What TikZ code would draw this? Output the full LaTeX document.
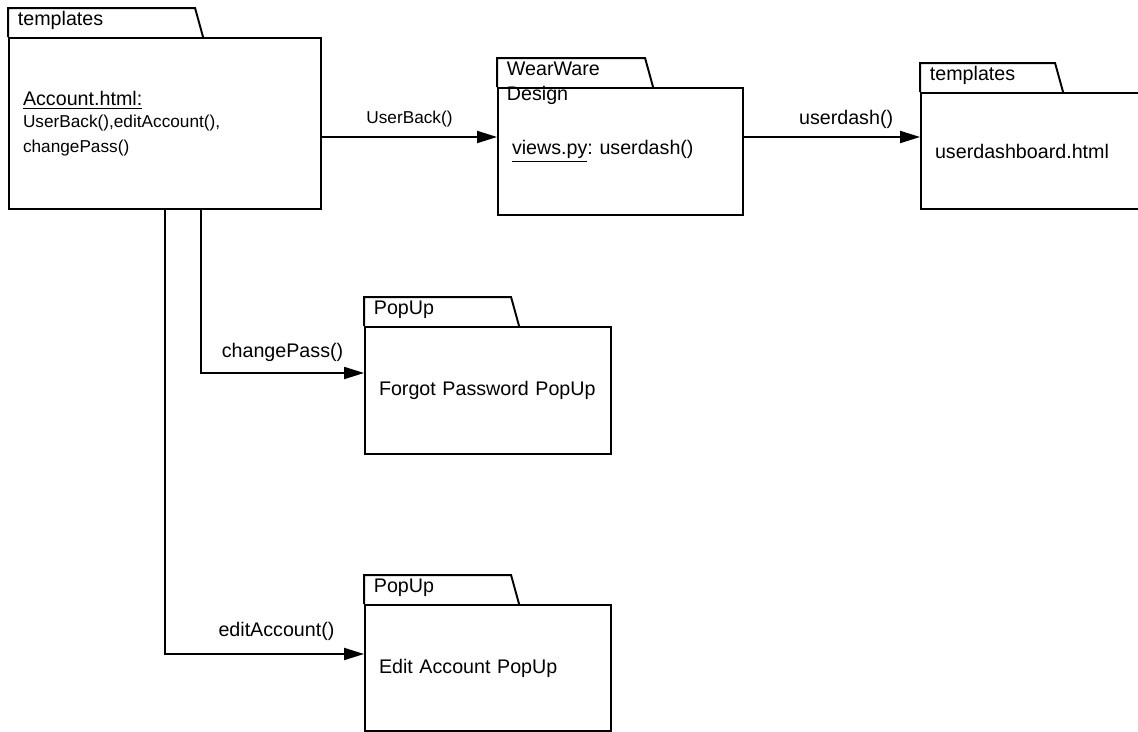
\documentclass[tikz,border=0pt]{standalone}
\usepackage{fontspec}
\setmainfont{Liberation Sans}
\usetikzlibrary{arrows.meta,positioning}
\newcommand{\pkgtab}[3]{%
  \draw[pkgline] (#1.north west) -- ++(0,-29) -- ++(#2,0) -- ++(8,29);
  \node[tablabel] (#1-tab) at ([xshift=0.19cm,yshift=0.23cm]#1.north west) {#3};
}
\newcommand{\smalltxt}{\fontsize{9.8}{12.5}\selectfont}
\frenchspacing

\begin{document}
\begin{tikzpicture}[x=0.02cm,y=-0.02cm,
  font=\fontsize{11.2}{14}\selectfont,
  pkgline/.style={line width=1.1pt,line join=miter},
  pkgbody/.style={draw,pkgline,rectangle,inner xsep=0.28cm,align=left},
  tablabel/.style={anchor=base west,inner sep=0pt,align=left},
  arr/.style={line width=1.1pt,-{Triangle[length=0.4cm,width=0.24cm]}},
  lbl/.style={above,inner sep=4pt}]
\useasboundingbox (0,0) rectangle (1138,732);
% packages
\node (acc) [pkgbody,text width=5.68cm,minimum height=3.42cm] at (165,123.5)
  {\underline{Account.html:}\\\smalltxt UserBack(),editAccount(),\\changePass()};
\node (ww) [pkgbody,text width=4.34cm,minimum height=2.54cm] at (620.5,151.5)
  {\underline{views.py}:\ userdash()};
\node (dash) [pkgbody,text width=4.22cm,minimum height=2.32cm] at (1040.5,151)
  {userdashboard.html};
\node (pop1) [pkgbody,text width=4.36cm,minimum height=2.54cm] at (488,390.5)
  {Forgot Password PopUp};
\node (pop2) [pkgbody,text width=4.36cm,minimum height=2.52cm] at (488,668)
  {Edit Account PopUp};
%
\pkgtab{acc}{187}{templates}
\pkgtab{ww}{148}{\begin{tabular}[t]{@{}l@{}}WearWare\\Design\end{tabular}}
\pkgtab{dash}{135}{templates}
\pkgtab{pop1}{147}{PopUp}
\pkgtab{pop2}{147}{PopUp}
% connectors
\coordinate (ww-in) at ([yshift=0.29cm]ww.west);
\coordinate (dash-in) at ([yshift=0.28cm]dash.west);
\coordinate (pop1-in) at ([yshift=0.35cm]pop1.west);
\coordinate (pop2-in) at ([yshift=0.28cm]pop2.west);
\coordinate (acc-out) at ([xshift=0.72cm]acc.south);
%
\draw[arr] (acc.east |- ww-in) -- node[lbl,font=\smalltxt,yshift=1pt] {UserBack()} (ww-in);
\draw[arr] (ww.east |- dash-in) -- node[lbl,pos=0.58] {userdash()} (dash-in);
\draw[arr] (acc-out) |- node[lbl,pos=0.75,yshift=2pt] {changePass()} (pop1-in);
\draw[arr] (acc.south) |- node[lbl,pos=0.78,yshift=3pt] {editAccount()} (pop2-in);
\end{tikzpicture}
\end{document}
